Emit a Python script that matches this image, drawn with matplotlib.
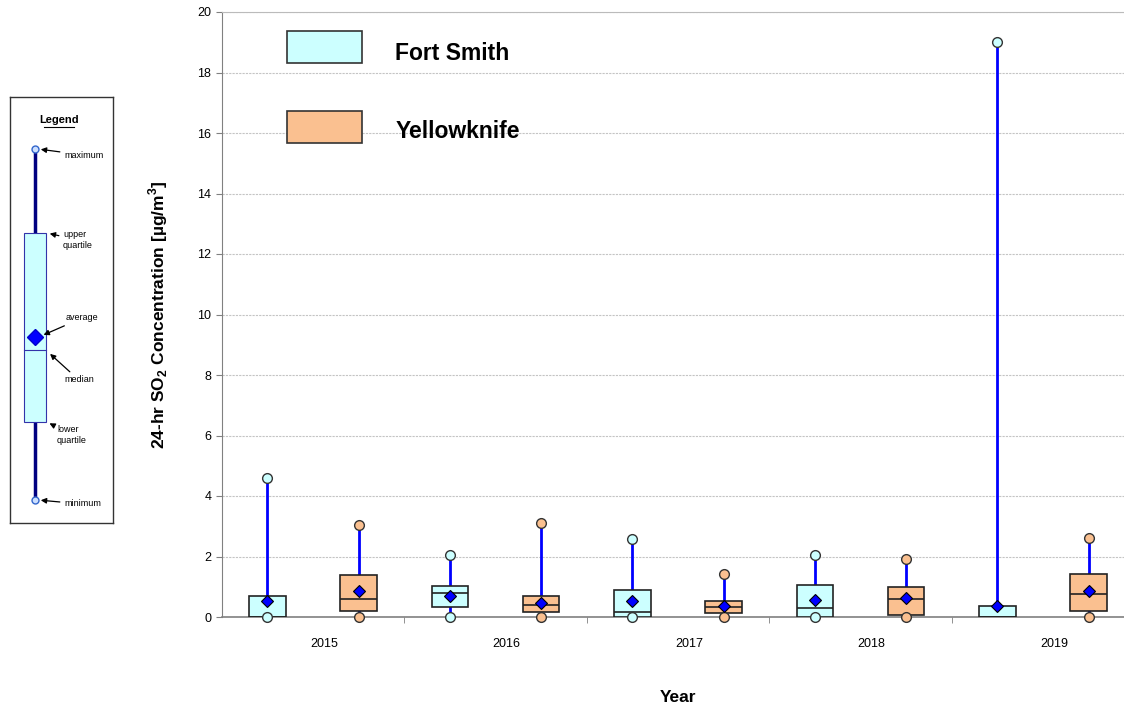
import matplotlib.pyplot as plt
from matplotlib.patches import Rectangle
import numpy as np

plt.rcParams['font.family'] = ['Liberation Sans', 'DejaVu Sans']
plt.rcParams['mathtext.fontset'] = 'custom'
plt.rcParams['mathtext.rm'] = 'Liberation Sans'
plt.rcParams['mathtext.bf'] = 'Liberation Sans:bold'

years = ['2015', '2016', '2017', '2018', '2019']
stations = ['Fort Smith', 'Yellowknife']
fills = ['#ccffff', '#fac090']

# 24-hr SO2 statistics per year, ug/m3
fs_min = [0.0, 0.0, 0.0, 0.0, np.nan]
fs_q1 = [0.0, 0.32, 0.0, 0.0, 0.0]
fs_med = [0.0, 0.79, 0.15, 0.30, 0.0]
fs_q3 = [0.70, 1.02, 0.89, 1.07, 0.36]
fs_max = [4.6, 2.05, 2.59, 2.05, 19.0]
fs_mean = [0.52, 0.70, 0.52, 0.55, 0.36]

yk_min = [0.0, 0.0, 0.0, 0.0, 0.0]
yk_q1 = [0.19, 0.17, 0.13, 0.08, 0.21]
yk_med = [0.58, 0.39, 0.33, 0.60, 0.77]
yk_q3 = [1.40, 0.68, 0.53, 0.99, 1.41]
yk_max = [3.04, 3.12, 1.42, 1.91, 2.61]
yk_mean = [0.85, 0.47, 0.36, 0.62, 0.86]

fig = plt.figure(figsize=(11.24, 7.08), dpi=100)
ax = fig.add_axes([221.75 / 1124, 91 / 708, 912.5 / 1124, 605 / 708])

x = np.arange(len(years))
series = [
    (fs_min, fs_q1, fs_med, fs_q3, fs_max, fs_mean),
    (yk_min, yk_q1, yk_med, yk_q3, yk_max, yk_mean),
]
width = 0.2
for k, (mn, q1, med, q3, mx, mean) in enumerate(series):
    xs = x - 0.25 + 0.5 * k
    mn, q1, med, q3, mx = map(np.asarray, (mn, q1, med, q3, mx))
    ax.vlines(xs, np.nan_to_num(mn), mx, color='#0000ff', lw=2, zorder=2)
    ax.bar(xs, q3 - q1, bottom=q1, width=width, color=fills[k],
           edgecolor='#222222', lw=1.2, zorder=3)
    ax.hlines(med, xs - width / 2, xs + width / 2, color='#222222', lw=1.2, zorder=4)
    ax.plot(xs, mx, 'o', ms=7, mfc=fills[k], mec='#333333', mew=1, zorder=5, clip_on=False)
    ax.plot(xs, mn, 'o', ms=7, mfc=fills[k], mec='#333333', mew=1, zorder=5, clip_on=False)
    ax.plot(xs, mean, 'D', ms=6, mfc='#0000ff', mec='black', mew=0.8, zorder=6)

ax.set_xlim(-0.5, 4.5)
ax.set_ylim(0, 20)
ax.set_yticks(np.arange(0, 21, 2))
ax.grid(axis='y', color='#c4c4c4', ls=(0, (2, 1)), lw=0.8)
ax.set_axisbelow(True)
ax.tick_params(axis='y', labelsize=9, length=4, color='#808080')
# year labels sit a little right of the group centres
ax.set_xticks(x + 0.06)
ax.set_xticklabels(years, fontsize=9)
ax.tick_params(axis='x', which='major', length=0, pad=15)
ax.set_xticks(x[:-1] + 0.5, minor=True)
ax.tick_params(axis='x', which='minor', length=4, color='#808080')
ax.spines['right'].set_visible(False)
ax.spines['top'].set_color('#bbbbbb')
ax.spines['left'].set_color('#808080')
ax.spines['bottom'].set_color('#808080')
ax.spines['bottom'].set_linewidth(1.2)

ax.set_ylabel(r'24-hr SO$_\mathbf{2}$ Concentration [µg/m$^\mathbf{3}$]', fontsize=12.5,
              fontweight='bold', labelpad=20)
ax.set_xlabel('Year', fontsize=12.5, fontweight='bold', labelpad=29)

# station key inside the plot
key_y = [(0.9157, 0.932), (0.7835, 0.803)]
for k, name in enumerate(stations):
    ax.add_patch(Rectangle((0.0715, key_y[k][0]), 0.0822, 0.0529,
                           transform=ax.transAxes, fc=fills[k], ec='#333333',
                           lw=1.2, zorder=7))
    ax.text(0.19, key_y[k][1], name, transform=ax.transAxes, fontsize=16.5,
            fontweight='bold', va='center', ha='left', zorder=7)

# explanatory box-plot key on the left
lg = fig.add_axes([10 / 1124, (708 - 523) / 708, 103 / 1124, 426 / 708])
lg.set_xlim(10, 113)
lg.set_ylim(523, 97)
lg.set_xticks([])
lg.set_yticks([])
for s in lg.spines.values():
    s.set_color('#333333')
    s.set_linewidth(1)
lg.text(59, 120, 'Legend', fontsize=8, fontweight='bold', ha='center', va='center')
lg.plot([44, 74], [127, 127], color='black', lw=0.8)
lg.vlines(35, 149, 500, color='#000080', lw=2.5, zorder=1)
lg.add_patch(Rectangle((24, 233), 22, 189, fc='#ccffff', ec='#3333aa', lw=0.8, zorder=2))
lg.plot([24, 46], [350, 350], color='#3333aa', lw=0.8, zorder=3)
lg.plot(35, 337, 'D', ms=8, mfc='#0000ff', mec='#0000cc', zorder=4)
lg.plot([35, 35], [149, 500], 'o', ms=5, mfc='#ccdfff', mec='#3366cc', mew=1, zorder=4)

arrow = dict(arrowstyle='-|>', color='black', lw=0.9, mutation_scale=8, shrinkA=1)
notes = [
    ('maximum', (64, 155), (38, 149)),
    ('upper\nquartile', (63, 240), (47, 233)),
    ('average', (66, 318), (41, 336)),
    ('median', (64, 380), (48, 352)),
    ('lower\nquartile', (57, 435), (47, 422)),
    ('minimum', (64, 504), (38, 500)),
]
for txt, xy_text, xy in notes:
    lg.annotate(txt, xy=xy, xytext=xy_text, fontsize=6.5, ha='left', va='center',
                arrowprops=arrow)

fig.savefig('out.png', dpi=100)
